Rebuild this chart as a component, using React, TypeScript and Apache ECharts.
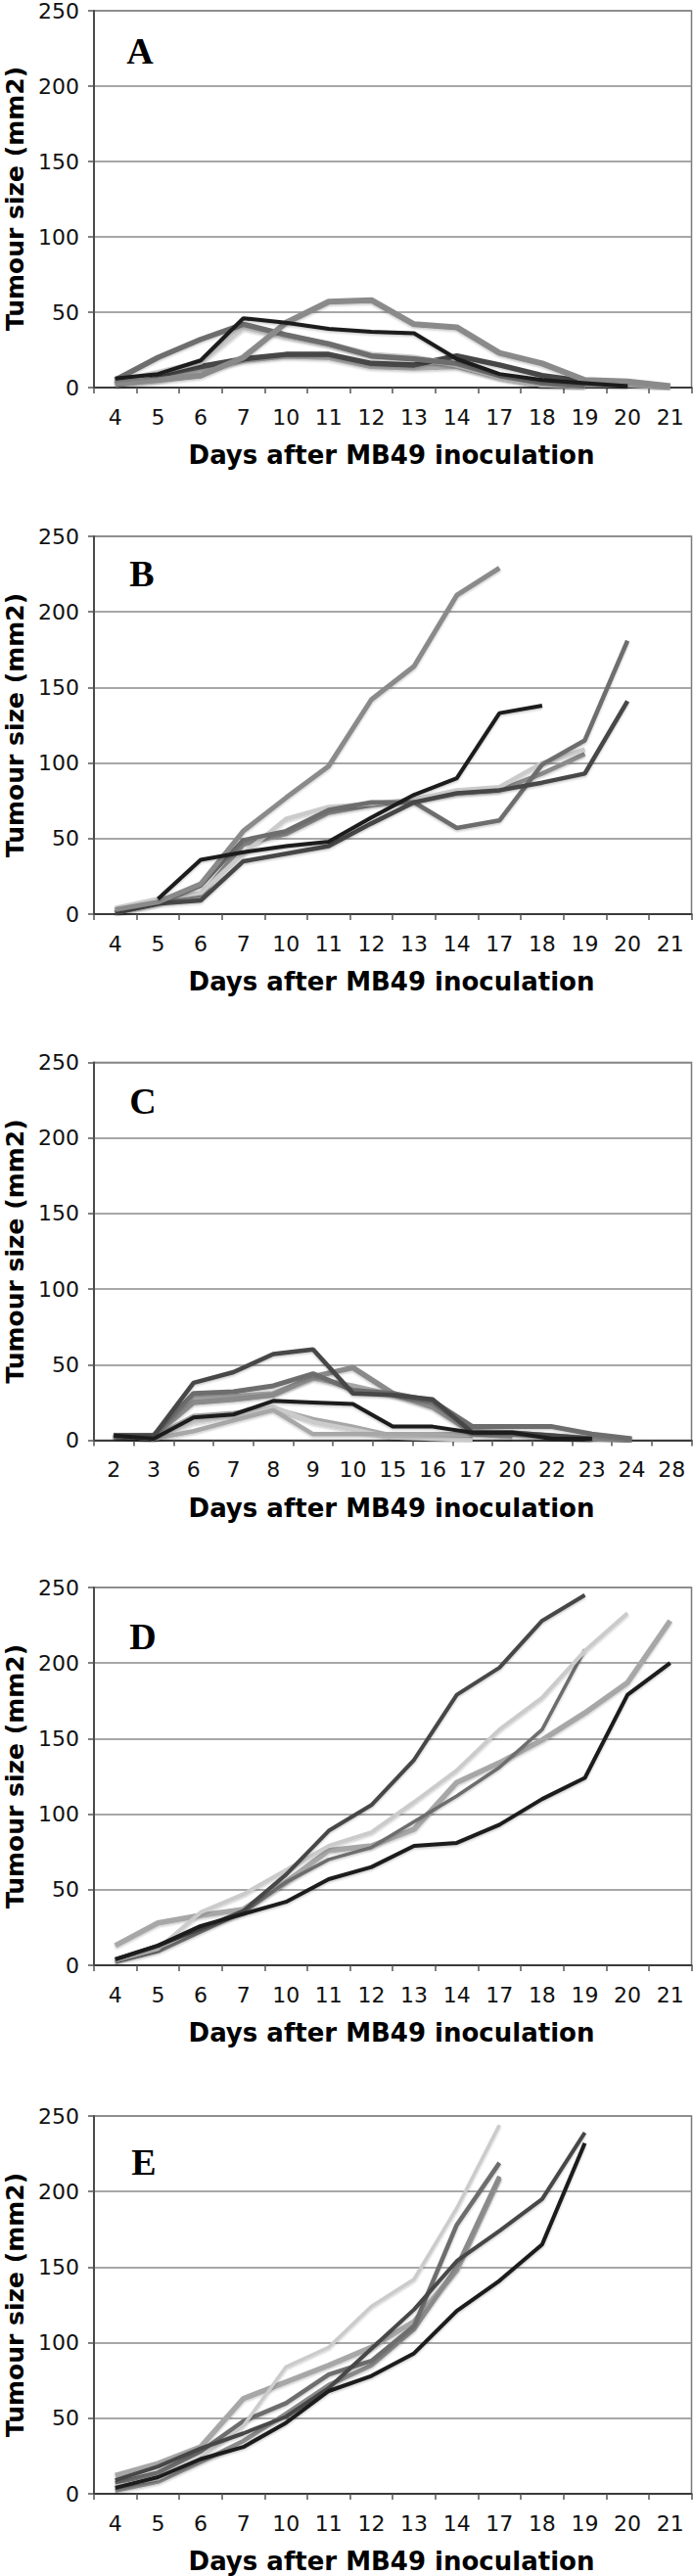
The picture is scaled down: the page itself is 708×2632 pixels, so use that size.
import React, { useEffect, useRef } from "react";
import * as echarts from "echarts";

// ---- categories ----
const daysMain = ["4", "5", "6", "7", "10", "11", "12", "13", "14", "17", "18", "19", "20", "21"];
const daysC = ["2", "3", "6", "7", "8", "9", "10", "15", "16", "17", "20", "22", "23", "24", "28"];
const panelLetters = ["A", "B", "C", "D", "E"];
const yTitle = "Tumour size (mm2)";
const xTitle = "Days after MB49 inoculation";

// ---- panel A (tumour size, mm2) ----
const a1 = [6, 9, 18, 46, 43, 39, 37, 36, 19, 9, 5, 3, 1, null];
const a2 = [3, 5, 8, 20, 43, 57, 58, 42, 40, 23, 16, 5, 4, 1];
const a3 = [5, 20, 32, 42, 35, 29, 21, 19, 16, 8, 3, 1, null, null];
const a4 = [4, 10, 17, 40, 34, 29, 22, 20, 15, 7, 2, 1, null, null];
const a5 = [3, 8, 14, 19, 22, 22, 16, 15, 21, 15, 8, 4, 2, null];
const a6 = [2, 5, 12, 18, 21, 20, 14, 13, 14, 7, 2, 2, 2, 0];

// ---- panel B ----
const b1 = [3, 8, 20, 55, 77, 98, 142, 164, 211, 229, null, null, null, null];
const b2 = [null, 10, 36, 41, 45, 48, 64, 79, 90, 133, 138, null, null, null];
const b3 = [1, 7, 9, 35, 40, 45, 60, 74, 80, 82, 87, 93, 141, null];
const b4 = [1, 7, 19, 49, 55, 69, 74, 74, 57, 62, 99, 115, 181, null];
const b5 = [4, 10, 14, 40, 63, 71, 73, 76, 82, 84, 100, 109, null, null];
const b6 = [3, 8, 12, 46, 53, 67, 72, 76, 80, 82, 93, 106, null, null];

// ---- panel C ----
const c1 = [3, 3, 38, 45, 57, 60, 31, 30, 27, 5, 5, 3, 1, null, null];
const c2 = [3, 3, 25, 27, 30, 42, 48, 31, 22, 5, 4, 3, 1, 0, null];
const c3 = [3, 3, 31, 32, 36, 44, 33, 31, 26, 9, 9, 9, 4, 1, null];
const c4 = [3, 1, 15, 17, 26, 25, 24, 9, 9, 5, 5, 1, 1, null, null];
const c5 = [3, 1, 6, 13, 20, 4, 4, 4, 4, 4, 2, null, null, null, null];
const c6 = [3, 1, 12, 16, 22, 12, 7, 2, 1, 0, null, null, null, null, null];
const c7 = [3, 3, 28, 29, 31, 41, 36, 30, 23, 6, 5, 3, 1, null, null];
const c8 = [3, 2, 16, 18, 21, 14, 9, 3, 2, 1, null, null, null, null, null];

// ---- panel D ----
const d1 = [4, 13, 24, 36, 60, 89, 106, 136, 179, 197, 228, 245, null, null];
const d2 = [3, 11, 35, 47, 63, 79, 88, 108, 129, 156, 177, 208, 233, null];
const d3 = [2, 9, 22, 35, 55, 70, 78, 95, 112, 131, 156, 209, null, null];
const d4 = [13, 28, 33, 37, 55, 76, 79, 90, 121, 134, 149, 167, 187, 228];
const d5 = [4, 13, 26, 34, 42, 57, 65, 79, 81, 93, 110, 124, 179, 200];

// ---- panel E ----
const e1 = [5, 10, 24, 45, 84, 97, 124, 142, 189, 244, null, null, null, null];
const e2 = [4, 11, 23, 31, 47, 68, 78, 93, 121, 141, 165, 232, null, null];
const e3 = [9, 18, 30, 40, 51, 70, 96, 122, 154, 174, 195, 239, null, null];
const e4 = [12, 20, 31, 63, 74, 85, 97, 114, 148, 209, null, null, null, null];
const e5 = [7, 14, 28, 48, 60, 79, 88, 111, 178, 219, null, null, null, null];
const e6 = [2, 8, 21, 35, 53, 72, 85, 109, 150, 210, null, null, null, null];

// ---- styles (kept apart from data) ----
const BLACK = "#1b1b1b";
const DARK = "#464646";
const MID = "#6d6d6d";
const GRAY = "#8a8a8a";
const LIGHT = "#a7a7a7";
const PALE = "#cbcbcb";

type Line = { data: (number | null)[]; color: string; width: number };

const panels: { cats: string[]; lines: Line[] }[] = [
  {
    cats: daysMain,
    lines: [
      { data: a6, color: LIGHT, width: 5.5 },
      { data: a5, color: DARK, width: 5.5 },
      { data: a4, color: PALE, width: 5.5 },
      { data: a3, color: MID, width: 5.5 },
      { data: a2, color: GRAY, width: 6 },
      { data: a1, color: BLACK, width: 4 },
    ],
  },
  {
    cats: daysMain,
    lines: [
      { data: b6, color: GRAY, width: 4.5 },
      { data: b5, color: PALE, width: 4.5 },
      { data: b4, color: MID, width: 4.5 },
      { data: b3, color: DARK, width: 4.5 },
      { data: b1, color: GRAY, width: 5 },
      { data: b2, color: BLACK, width: 4 },
    ],
  },
  {
    cats: daysC,
    lines: [
      { data: c8, color: LIGHT, width: 4.5 },
      { data: c6, color: PALE, width: 4.5 },
      { data: c5, color: LIGHT, width: 4.5 },
      { data: c7, color: LIGHT, width: 5 },
      { data: c2, color: GRAY, width: 5.5 },
      { data: c3, color: MID, width: 5 },
      { data: c1, color: DARK, width: 4.5 },
      { data: c4, color: BLACK, width: 4 },
    ],
  },
  {
    cats: daysMain,
    lines: [
      { data: d4, color: LIGHT, width: 5.5 },
      { data: d3, color: MID, width: 3.5 },
      { data: d2, color: PALE, width: 4 },
      { data: d1, color: DARK, width: 4 },
      { data: d5, color: BLACK, width: 4 },
    ],
  },
  {
    cats: daysMain,
    lines: [
      { data: e4, color: LIGHT, width: 5.5 },
      { data: e6, color: GRAY, width: 4.5 },
      { data: e5, color: MID, width: 4.5 },
      { data: e1, color: PALE, width: 3.5 },
      { data: e3, color: DARK, width: 4 },
      { data: e2, color: BLACK, width: 4 },
    ],
  },
];

const W = 708;
const H = 2632;
const LEFT = 96;
const PLOT_W = 610.5;
const PLOT_H = 386;
const tops = [10, 548, 1085.5, 1622, 2162];
const letterPos = [
  [143, 52],
  [145, 586],
  [146, 1125],
  [146, 1672],
  [147, 2209],
];

export default function App() {
  const ref = useRef<HTMLDivElement>(null);

  useEffect(() => {
    if (!ref.current) return;
    const chart = echarts.init(ref.current, undefined, { renderer: "svg" });

    const grid: any[] = [];
    const xAxis: any[] = [];
    const yAxis: any[] = [];
    const series: any[] = [];
    const graphic: any[] = [];

    panels.forEach((p, i) => {
      grid.push({
        left: LEFT,
        top: tops[i],
        width: PLOT_W,
        height: PLOT_H,
        show: true,
        borderColor: "#7a7a7a",
        borderWidth: 1.5,
        backgroundColor: "transparent",
      });
      xAxis.push({
        type: "category",
        gridIndex: i,
        data: p.cats,
        boundaryGap: true,
        axisLine: { show: true, lineStyle: { color: "#3a3a3a", width: 2 } },
        axisTick: { show: true, length: 6, interval: 0, alignWithLabel: false, lineStyle: { color: "#555", width: 1.5 } },
        axisLabel: {
          interval: 0,
          fontSize: 22,
          fontFamily: "DejaVu Sans",
          color: "#111",
          margin: 19,
        },
        splitLine: { show: false },
      });
      yAxis.push({
        type: "value",
        gridIndex: i,
        min: 0,
        max: 250,
        interval: 50,
        axisLine: { show: true, lineStyle: { color: "#4a4a4a", width: 2 } },
        axisTick: { show: true, length: 6, lineStyle: { color: "#555", width: 1.5 } },
        axisLabel: { fontSize: 22, fontFamily: "DejaVu Sans", color: "#111", margin: 15 },
        splitLine: { show: true, lineStyle: { color: "#8a8a8a", width: 1.5 } },
      });
      p.lines.forEach((ln) => {
        series.push({
          type: "line",
          xAxisIndex: i,
          yAxisIndex: i,
          data: ln.data,
          symbol: "none",
          showSymbol: false,
          connectNulls: false,
          silent: true,
          lineStyle: {
            color: ln.color,
            width: ln.width,
            shadowColor: "rgba(0,0,0,0.22)",
            shadowBlur: 2,
            shadowOffsetY: 1.5,
          },
        });
      });
      const top = tops[i];
      graphic.push({
        type: "text",
        x: 15,
        y: top + PLOT_H / 2,
        rotation: Math.PI / 2,
        style: {
          text: yTitle,
          fontSize: 25,
          fontWeight: "bold",
          fontFamily: "DejaVu Sans",
          fill: "#000",
          align: "center",
          verticalAlign: "middle",
          textAlign: "center",
          textVerticalAlign: "middle",
        },
      });
      graphic.push({
        type: "text",
        x: 400,
        y: top + PLOT_H + 69,
        style: {
          text: xTitle,
          fontSize: 26,
          fontWeight: "bold",
          fontFamily: "DejaVu Sans",
          fill: "#000",
          align: "center",
          verticalAlign: "middle",
          textAlign: "center",
          textVerticalAlign: "middle",
        },
      });
      graphic.push({
        type: "text",
        x: letterPos[i][0],
        y: letterPos[i][1],
        style: {
          text: panelLetters[i],
          fontSize: 38,
          fontWeight: "bold",
          fontFamily: "Liberation Serif",
          fill: "#000",
          align: "center",
          verticalAlign: "middle",
          textAlign: "center",
          textVerticalAlign: "middle",
        },
      });
    });

    chart.setOption({
      animation: false,
      backgroundColor: "#fff",
      grid,
      xAxis,
      yAxis,
      series,
      graphic,
    });

    return () => chart.dispose();
  }, []);

  return (
    <div
      ref={ref}
      style={{ position: "absolute", left: 0, top: 0, width: W, height: H, background: "#fff" }}
    />
  );
}
